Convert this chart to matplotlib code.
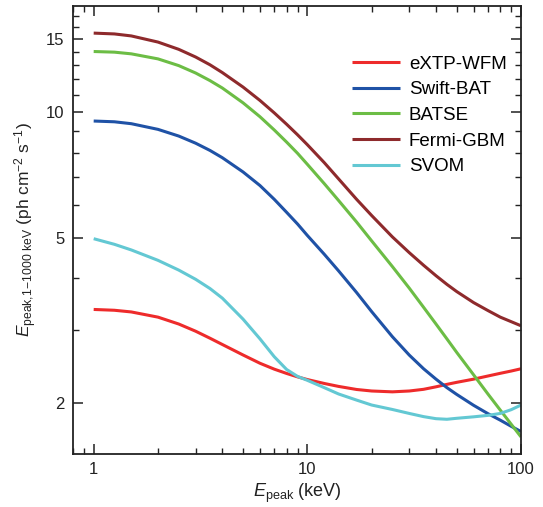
import matplotlib
matplotlib.use('Agg')
import matplotlib.pyplot as plt
from matplotlib.ticker import FixedLocator, NullFormatter, LogLocator, FixedFormatter

plt.rcParams['font.family'] = ['Liberation Sans', 'DejaVu Sans']
plt.rcParams['mathtext.fontset'] = 'custom'
plt.rcParams['mathtext.rm'] = 'Liberation Sans'
plt.rcParams['mathtext.it'] = 'Liberation Sans:italic'

# peak energy grid (keV)
e_peak = [1, 1.25, 1.5, 2, 2.5, 3, 3.5, 4, 5, 6, 7, 8, 9, 10, 12, 14, 17, 20,
          25, 30, 35, 40, 45, 50, 60, 70, 80, 90, 100]

# sensitivity curves
extp_wfm = [3.36, 3.345, 3.314, 3.22, 3.10, 2.979, 2.866, 2.768, 2.612, 2.495, 2.415, 2.358,
            2.314, 2.28, 2.231, 2.195, 2.158, 2.14, 2.13, 2.14, 2.16, 2.19, 2.22, 2.245,
            2.285, 2.325, 2.36, 2.39, 2.42]
swift_bat = [9.53, 9.49, 9.39, 9.10, 8.77, 8.43, 8.10, 7.78, 7.19, 6.67, 6.18, 5.75,
             5.39, 5.06, 4.56, 4.16, 3.69, 3.32, 2.89, 2.61, 2.42, 2.285, 2.18, 2.10,
             1.977, 1.888, 1.821, 1.76, 1.71]
batse = [14.0, 13.95, 13.82, 13.44, 12.95, 12.43, 11.92, 11.44, 10.54, 9.76, 9.07, 8.48,
         7.97, 7.50, 6.74, 6.14, 5.45, 4.91, 4.26, 3.78, 3.40, 3.10, 2.855, 2.65,
         2.34, 2.105, 1.925, 1.78, 1.66]
fermi_gbm = [15.5, 15.43, 15.26, 14.75, 14.17, 13.58, 13.01, 12.46, 11.5, 10.68, 9.97, 9.36,
             8.83, 8.36, 7.57, 6.92, 6.18, 5.65, 5.02, 4.6, 4.29, 4.05, 3.86, 3.71,
             3.49, 3.34, 3.22, 3.14, 3.07]
svom = [4.97, 4.818, 4.67, 4.409, 4.178, 3.97, 3.773, 3.577, 3.185, 2.856, 2.587, 2.41,
        2.32, 2.27, 2.18, 2.105, 2.035, 1.98, 1.932, 1.89, 1.857, 1.836, 1.83, 1.84,
        1.855, 1.87, 1.89, 1.93, 1.98]

series = [
    ('eXTP-WFM', extp_wfm, '#ee2b2b'),
    ('Swift-BAT', swift_bat, '#1f52a6'),
    ('BATSE', batse, '#6cbd45'),
    ('Fermi-GBM', fermi_gbm, '#8e2a2c'),
    ('SVOM', svom, '#63c8d3'),
]

fig = plt.figure(figsize=(5.43, 5.07), dpi=100)
ax = fig.add_axes([0.1344, 0.1045, 0.8251, 0.8835])

for label, vals, color in series:
    ax.plot(e_peak, vals, color=color, lw=2.2, label=label, solid_capstyle='butt')

ax.set_xscale('log')
ax.set_yscale('log')
ax.set_xlim(0.8, 100)
ax.set_ylim(1.51, 18)

ax.xaxis.set_major_locator(FixedLocator([1, 10, 100]))
ax.xaxis.set_major_formatter(FixedFormatter(['1', '10', '100']))
ax.xaxis.set_minor_locator(LogLocator(base=10, subs=range(2, 10)))
ax.xaxis.set_minor_formatter(NullFormatter())

ax.yaxis.set_major_locator(FixedLocator([2, 5, 10, 15]))
ax.yaxis.set_major_formatter(FixedFormatter(['2', '5', '10', '15']))
ax.yaxis.set_minor_locator(FixedLocator([3, 4, 6, 7, 8, 9, 11, 12, 13, 14, 16, 17]))
ax.yaxis.set_minor_formatter(NullFormatter())

ax.tick_params(which='both', direction='in', top=True, right=True, labelsize=12,
               color='#222222', labelcolor='#222222')
ax.tick_params(which='major', length=7, width=1.1, pad=6)
ax.tick_params(which='minor', length=4, width=1.0)
for sp in ax.spines.values():
    sp.set_linewidth(1.3)
    sp.set_color('#222222')

ax.set_xlabel(r'$E_{\mathrm{peak}}$ (keV)', fontsize=13, color='#222222', labelpad=3)
ax.set_ylabel(r'$E_{\mathrm{peak{,}1\!-\!1000\ keV}}$ (ph cm$^{-2}$ s$^{-1}$)',
              fontsize=12.5, color='#222222', labelpad=5)

ax.legend(loc='upper left', bbox_to_anchor=(0.606, 0.906), frameon=False, fontsize=13.5,
          handlelength=2.56, handletextpad=0.48, labelspacing=0.45, borderaxespad=0)

fig.savefig('out.png', dpi=100)
